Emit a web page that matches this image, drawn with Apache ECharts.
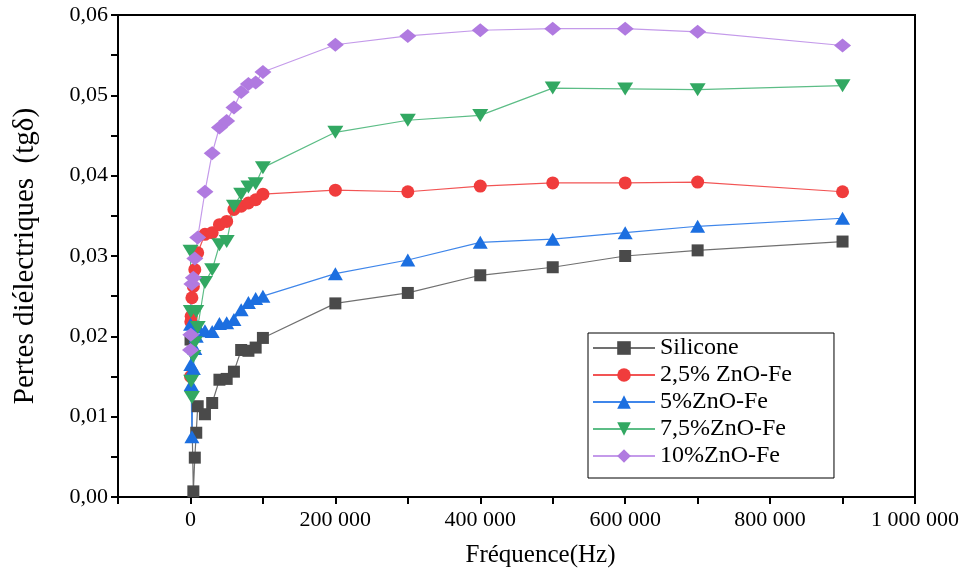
<!DOCTYPE html>
<html>
<head>
<meta charset="utf-8">
<script src="https://cdn.jsdelivr.net/npm/echarts@6/dist/echarts.min.js"></script>
<style>html,body{margin:0;padding:0;background:#fff;}#c{width:970px;height:578px;}</style>
</head>
<body>
<div id="c"></div>
<script>
const freq = [100, 500, 1000, 2000, 4000, 6000, 8000, 10000, 20000, 30000, 40000, 50000, 60000, 70000, 80000, 90000, 100000, 200000, 300000, 400000, 500000, 600000, 700000, 900000];
const silicone = [0.0196, null, null, null, 0.0007, 0.0049, 0.0080, 0.0113, 0.0103, 0.0117, 0.0146, 0.0147, 0.0156, 0.0183, 0.0182, 0.0186, 0.0198, 0.0241, 0.0254, 0.0276, 0.0286, 0.0300, 0.0307, 0.0318];
const zno25 = [0.0150, 0.0218, 0.0225, 0.0248, 0.0262, 0.0283, null, 0.0304, 0.0327, 0.0329, 0.0339, 0.0343, 0.0358, 0.0362, 0.0366, 0.0370, 0.0377, 0.0382, 0.0380, 0.0387, 0.0391, 0.0391, 0.0392, 0.0380];
const zno5 = [0.0215, 0.0165, 0.0140, 0.0075, 0.0160, 0.0185, 0.0200, 0.0212, 0.0207, 0.0206, 0.0216, 0.0217, 0.0221, 0.0233, 0.0242, 0.0247, 0.0250, 0.0278, 0.0295, 0.0317, 0.0321, 0.0329, 0.0337, 0.0347];
const zno75 = [0.0306, 0.0231, 0.0144, 0.0124, 0.0175, 0.0192, 0.0231, 0.0211, 0.0267, 0.0283, 0.0314, 0.0318, 0.0362, 0.0377, 0.0386, 0.0390, 0.0410, 0.0454, 0.0469, 0.0475, 0.0509, 0.0508, 0.0507, 0.0512];
const zno10 = [0.0183, 0.0202, null, 0.0265, 0.0273, 0.0297, null, 0.0323, 0.0380, 0.0428, 0.0460, 0.0468, 0.0485, 0.0504, 0.0514, 0.0516, 0.0529, 0.0563, 0.0574, 0.0581, 0.0583, 0.0583, 0.0579, 0.0562];
const seriesNames = ['Silicone', '2,5% ZnO-Fe', '5%ZnO-Fe', '7,5%ZnO-Fe', '10%ZnO-Fe'];

const FONT = '"Liberation Serif", "Times New Roman", serif';
function pairs(vals) { return freq.map((f, i) => [f, vals[i]]); }
function mk(name, vals, symbol, size, color, lineColor, rotate) {
  return {
    name: name, type: 'line', data: pairs(vals), connectNulls: true,
    symbol: symbol, symbolSize: size, symbolRotate: rotate || 0,
    itemStyle: { color: color, opacity: 1 },
    lineStyle: { color: lineColor, width: 1.2 },
    emphasis: { disabled: true }, animation: false
  };
}
const chart = echarts.init(document.getElementById('c'), null, { renderer: 'canvas' });
chart.setOption({
  backgroundColor: '#fff',
  animation: false,
  grid: { left: 118, right: 55, top: 15, bottom: 81, show: true, borderColor: '#000', borderWidth: 2, containLabel: false, outerBoundsMode: 'none' },
  xAxis: {
    type: 'value', min: -100000, max: 1000000, interval: 100000,
    name: 'Fréquence(Hz)', nameLocation: 'middle', nameGap: 46,
    nameTextStyle: { fontFamily: FONT, fontSize: 25, color: '#000', padding: [0, 0, 0, 48] },
    axisLine: { onZero: false, lineStyle: { color: '#000', width: 2 } },
    axisTick: { inside: false, length: 7, lineStyle: { color: '#000', width: 2 } },
    splitLine: { show: false },
    axisLabel: {
      fontFamily: FONT, fontSize: 22, color: '#000', margin: 12, showMaxLabel: true,
      formatter: function (v) {
        if (v < 0 || Math.round(v) % 200000 !== 0) return '';
        return String(Math.round(v)).replace(/\B(?=(\d{3})+(?!\d))/g, ' ');
      }
    }
  },
  yAxis: {
    type: 'value', min: 0, max: 0.06, interval: 0.005,
    name: 'Pertes diélectriques  (tgδ)', nameLocation: 'middle', nameGap: 78, nameRotate: 90,
    nameTextStyle: { fontFamily: FONT, fontSize: 29, color: '#000' },
    axisLine: { onZero: false, lineStyle: { color: '#000', width: 2 } },
    axisTick: { inside: false, length: 7, lineStyle: { color: '#000', width: 2 } },
    splitLine: { show: false },
    axisLabel: {
      fontFamily: FONT, fontSize: 22, color: '#000', margin: 10,
      formatter: function (v) {
        const k = Math.round(v * 1000);
        if (k % 10 !== 0) return '';
        return (k / 1000).toFixed(2).replace('.', ',');
      }
    }
  },
  legend: {
    orient: 'vertical', left: 588, top: 333,
    data: seriesNames,
    backgroundColor: '#fff', borderColor: '#000', borderWidth: 1,
    padding: [3, 42, 10, 4], itemGap: 3, itemWidth: 62, itemHeight: 17,
    textStyle: { fontFamily: FONT, fontSize: 24, lineHeight: 24, color: '#000' }
  },
  series: [
    mk(seriesNames[0], silicone, 'rect', 12, '#4a4a4a', '#707070'),
    mk(seriesNames[1], zno25, 'circle', 13, '#f03c3c', '#f25454'),
    mk(seriesNames[2], zno5, 'triangle', [15, 13], '#1c6fe0', '#3f86ea'),
    mk(seriesNames[3], zno75, 'triangle', [16, 13], '#32a862', '#5cbd86', 180),
    mk(seriesNames[4], zno10, 'diamond', [17, 14], '#b07ae0', '#c49aea')
  ]
});
</script>
</body>
</html>
